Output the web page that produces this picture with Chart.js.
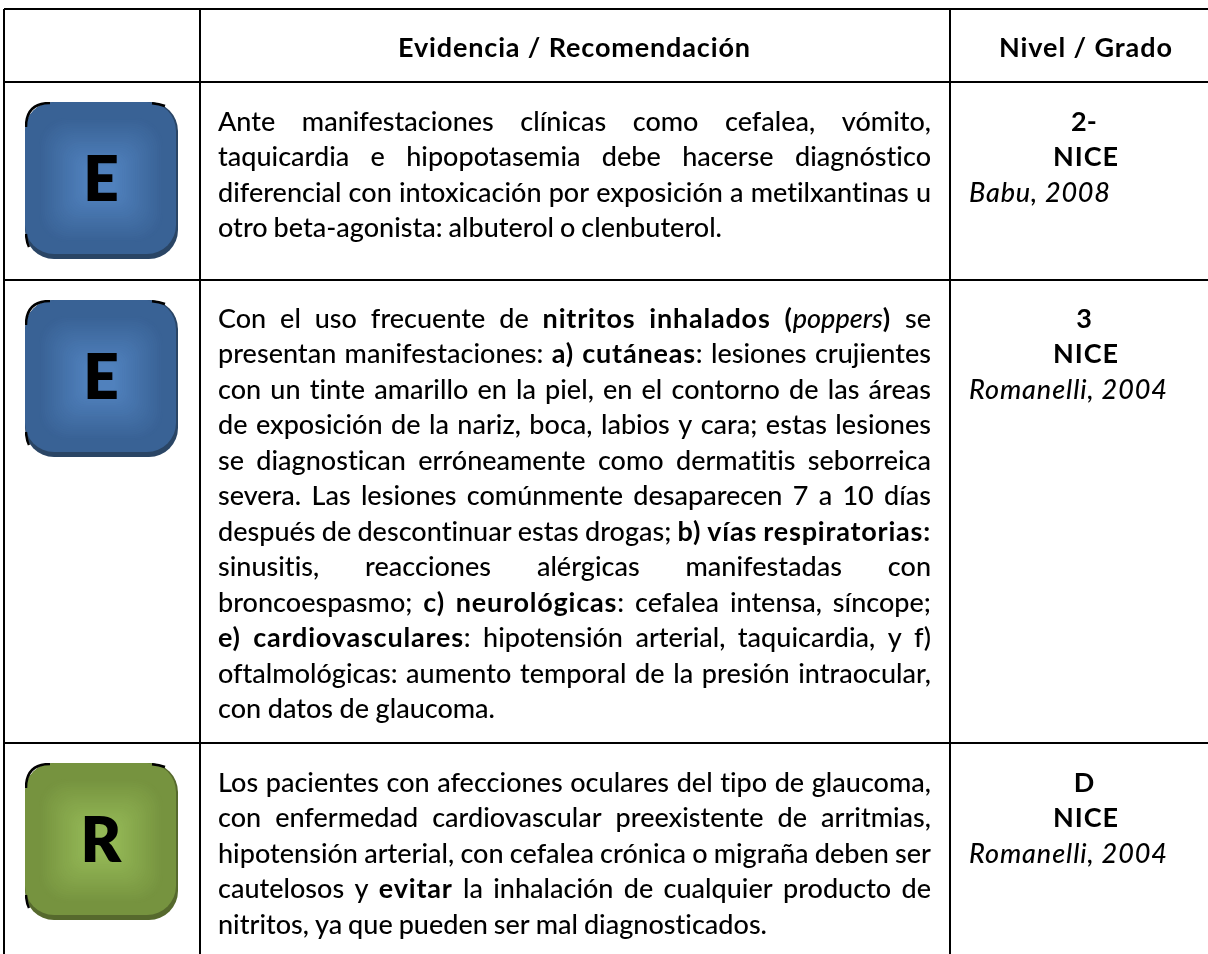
<!DOCTYPE html>
<html lang="es">
<head>
<meta charset="utf-8">
<title>Evidencia / Recomendación</title>
<style>html,body{margin:0;padding:0;background:#fff;overflow:hidden}canvas{display:block}</style>
<script src="https://cdn.jsdelivr.net/npm/chart.js@4"></script>
</head>
<body>
<canvas id="c" width="1208" height="954"></canvas>
<script>
const columnEdges = [4, 200, 950];
const rowEdges = [9, 82, 280, 743];
const headers = ["Evidencia / Recomendación", "Nivel / Grado"];
const badgeLetters = ["E", "E", "R"];
const levels = ["2-", "3", "D"];
const scales_ = ["NICE", "NICE", "NICE"];
const citations = ["Babu, 2008", "Romanelli, 2004", "Romanelli, 2004"];
const citationEnds = [1110, 1167, 1167];
const row1Lines = [
  "Ante manifestaciones clínicas como cefalea, vómito,",
  "taquicardia e hipopotasemia debe hacerse diagnóstico",
  "diferencial con intoxicación por exposición a metilxantinas u",
  "otro beta-agonista: albuterol o clenbuterol."
];
const row2Lines = [
  "Con el uso frecuente de **nitritos inhalados (**_poppers_**)** se",
  "presentan manifestaciones: **a) cutáneas**: lesiones crujientes",
  "con un tinte amarillo en la piel, en el contorno de las áreas",
  "de exposición de la nariz, boca, labios y cara; estas lesiones",
  "se diagnostican erróneamente como dermatitis seborreica",
  "severa. Las lesiones comúnmente desaparecen 7 a 10 días",
  "después de descontinuar estas drogas; **b) vías respiratorias:**",
  "sinusitis, reacciones alérgicas manifestadas con",
  "broncoespasmo; **c) neurológicas**: cefalea intensa, síncope;",
  "**e) cardiovasculares**: hipotensión arterial, taquicardia, y f)",
  "oftalmológicas: aumento temporal de la presión intraocular,",
  "con datos de glaucoma."
];
const row3Lines = [
  "Los pacientes con afecciones oculares del tipo de glaucoma,",
  "con enfermedad cardiovascular preexistente de arritmias,",
  "hipotensión arterial, con cefalea crónica o migraña deben ser",
  "cautelosos y **evitar** la inhalación de cualquier producto de",
  "nitritos, ya que pueden ser mal diagnosticados."
];
const rowLines = [row1Lines, row2Lines, row3Lines];
const shortLineEnds = [{3: 722}, {11: 495}, {4: 767}];

const FONT = 'Lato';
const SIZE = 27;
const PITCH = 35.45;
const palette = {
  E: {inner: [80, 129, 189], outer: [57, 98, 149], edge: '#2a4565'},
  R: {inner: [148, 184, 86], outer: [118, 147, 63], edge: '#56692d'}
};

function makeBadge(letter) {
  const W = 153, H = 157, R = 29;
  const cv = document.createElement('canvas');
  cv.width = W; cv.height = H;
  const g = cv.getContext('2d');
  const p = palette[letter];
  g.fillStyle = p.edge;
  g.beginPath(); g.roundRect(0, 0, W, H, R); g.fill();
  g.save();
  g.beginPath(); g.roundRect(0, 0, W - 2, H - 5, R); g.clip();
  g.fillStyle = `rgb(${p.outer})`; g.fillRect(0, 0, W, H);
  const cx = 76, cy = 78, STEPS = 26;
  for (let s = 0; s <= STEPS; s++) {
    const t = s / STEPS;
    const half = 62 - t * 48;
    const c = p.outer.map((v, k) => Math.round(v + (p.inner[k] - v) * t));
    g.fillStyle = `rgb(${c})`;
    g.beginPath(); g.roundRect(cx - half, cy - half, half * 2, half * 2, half * 0.45); g.fill();
  }
  g.restore();
  g.strokeStyle = '#000'; g.lineWidth = 2.5; g.lineCap = 'butt';
  g.beginPath(); g.moveTo(1, 25); g.quadraticCurveTo(1, 1, 25, 1); g.stroke();
  g.beginPath(); g.moveTo(127, 1.2); g.quadraticCurveTo(134, 2, 140, 4); g.stroke();
  g.beginPath(); g.moveTo(1, 132); g.quadraticCurveTo(1.5, 140, 4, 145); g.stroke();
  return cv;
}

function parseRuns(s) {
  const words = [];
  let bold = false, italic = false, buf = '', cur = [];
  const flush = () => { if (buf) { cur.push({t: buf, b: bold, i: italic}); buf = ''; } };
  for (let k = 0; k < s.length; k++) {
    if (s.startsWith('**', k)) { flush(); bold = !bold; k++; }
    else if (s[k] === '_') { flush(); italic = !italic; }
    else if (s[k] === ' ') { flush(); if (cur.length) words.push(cur); cur = []; }
    else buf += s[k];
  }
  flush(); if (cur.length) words.push(cur);
  return words;
}
function applyRun(ctx, r, size) {
  ctx.font = `${r.i ? 'italic ' : ''}${r.b ? '700 ' : '500 '}${size}px ${FONT}`;
  ctx.letterSpacing = r.b ? '0.8px' : '0.01px';
}
function wordWidth(ctx, w, size) {
  return w.reduce((a, r) => { applyRun(ctx, r, size); return a + ctx.measureText(r.t).width; }, 0);
}
function drawFitted(ctx, str, x0, x1, y) {
  const words = parseRuns(str);
  const widths = words.map(w => wordWidth(ctx, w, SIZE));
  const total = widths.reduce((a, b) => a + b, 0);
  const gap = words.length > 1 ? (x1 - x0 - total) / (words.length - 1) : 0;
  let x = x0;
  words.forEach((w, i) => {
    let xx = x;
    w.forEach(r => { applyRun(ctx, r, SIZE); ctx.fillText(r.t, xx, y); xx += ctx.measureText(r.t).width; });
    x += widths[i] + gap;
  });
  ctx.letterSpacing = '0.01px';
}
function drawSpaced(ctx, text, font, x0, x1, y) {
  ctx.font = font;
  ctx.letterSpacing = '0px';
  const nat = ctx.measureText(text).width;
  ctx.letterSpacing = ((x1 - x0 - nat) / (text.length - 1)).toFixed(3) + 'px';
  ctx.textAlign = 'left';
  ctx.fillText(text, x0, y);
  ctx.letterSpacing = '0.01px';
}

const tablePlugin = {
  id: 'tableText',
  afterDraw(chart) {
    const ctx = chart.ctx;
    const sx = chart.scales.x, sy = chart.scales.y;
    ctx.save();
    ctx.fillStyle = '#000';
    ctx.textBaseline = 'alphabetic';
    ctx.textAlign = 'left';
    ctx.letterSpacing = '0.01px';
    drawSpaced(ctx, headers[0], `700 ${SIZE}px ${FONT}`, 398, 750, sy.getPixelForValue(rowEdges[0] + 48));
    drawSpaced(ctx, headers[1], `700 ${SIZE}px ${FONT}`, 999, 1172, sy.getPixelForValue(rowEdges[0] + 48));
    rowLines.forEach((lines, r) => {
      const top = rowEdges[r + 1];
      const base = top + (r === 1 ? 48 : 49);
      lines.forEach((ln, i) => {
        const end = shortLineEnds[r][i] || 931;
        drawFitted(ctx, ln, 218, end, base + i * PITCH);
      });
      ctx.textAlign = 'center';
      ctx.font = `700 ${SIZE}px ${FONT}`;
      ctx.fillText(levels[r], 1084, base);
      ctx.textAlign = 'left';
      drawSpaced(ctx, scales_[r], `700 ${SIZE}px ${FONT}`, 1053, 1118, base + PITCH);
      drawSpaced(ctx, citations[r], `italic 500 ${SIZE}px ${FONT}`, 969, citationEnds[r], base + 2 * PITCH);
      ctx.textAlign = 'center';
      ctx.font = `800 62px ${FONT}`;
      ctx.fillText(badgeLetters[r], sx.getPixelForValue(101), top + 119);
      ctx.textAlign = 'left';
    });
    ctx.restore();
  }
};

const badgeCenters = rowEdges.slice(1).map(t => ({x: 101.5, y: t + 98.5}));
const badgeImages = badgeLetters.map(makeBadge);

new Chart(document.getElementById('c'), {
  type: 'scatter',
  data: { datasets: [{
    data: badgeCenters,
    pointStyle: badgeImages,
    pointRadius: 10,
    clip: false
  }]},
  options: {
    responsive: false,
    animation: false,
    events: [],
    layout: {autoPadding: false, padding: {left: 4, top: 9, right: 0, bottom: 0}},
    plugins: {legend: {display: false}, tooltip: {enabled: false}, title: {display: false}},
    scales: {
      x: {
        type: 'linear', min: 4, max: 1208, display: true,
        afterBuildTicks: a => { a.ticks = columnEdges.map(v => ({value: v})); },
        ticks: {display: false},
        border: {display: false},
        grid: {color: '#000', lineWidth: 2, drawTicks: false}
      },
      y: {
        type: 'linear', min: 9, max: 954, reverse: true, display: true,
        afterBuildTicks: a => { a.ticks = rowEdges.map(v => ({value: v})); },
        ticks: {display: false},
        border: {display: false},
        grid: {color: '#000', lineWidth: 2, drawTicks: false}
      }
    }
  },
  plugins: [tablePlugin]
});
</script>
</body>
</html>
